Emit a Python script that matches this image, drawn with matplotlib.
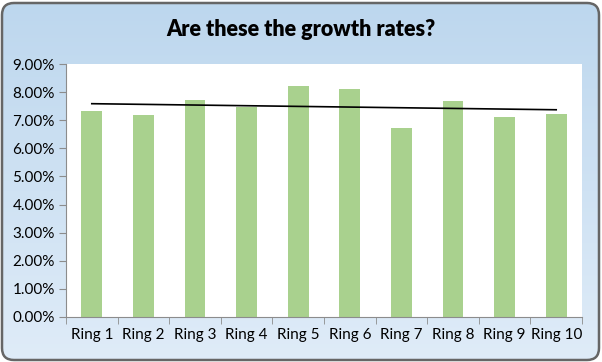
import matplotlib.pyplot as plt
import numpy as np
from matplotlib.patches import FancyBboxPatch
from matplotlib.ticker import FuncFormatter, FixedLocator

######## Data ########
rings = ['Ring 1', 'Ring 2', 'Ring 3', 'Ring 4', 'Ring 5',
         'Ring 6', 'Ring 7', 'Ring 8', 'Ring 9', 'Ring 10']
growth = [7.33, 7.19, 7.72, 7.47, 8.22, 8.11, 6.73, 7.69, 7.12, 7.22]
title = 'Are these the growth rates?'
######################

plt.rcParams['font.family'] = ['Lato', 'DejaVu Sans']

fig = plt.figure(figsize=(6.02, 3.62), dpi=100)
fig.patch.set_facecolor('white')

# rounded frame with vertical gradient
bg = fig.add_axes([0, 0, 1, 1], zorder=-1)
bg.set_xlim(0, 602)
bg.set_ylim(0, 362)
bg.axis('off')
frame = FancyBboxPatch((2, 2), 597, 357, boxstyle='round,pad=0,rounding_size=12',
                       facecolor='none', edgecolor='#666666', linewidth=1.8, zorder=3)
bg.add_patch(frame)
grad = np.linspace(0, 1, 256).reshape(-1, 1)
top = np.array([0.741, 0.843, 0.933])
bot = np.array([0.875, 0.925, 0.973])
img = top + (bot - top) * grad[:, :, None] * np.ones((1, 1, 3))
im = bg.imshow(img, extent=(2, 599, 2, 359), origin='upper', aspect='auto')
im.set_clip_path(frame)

ax = fig.add_axes([66 / 602, 45 / 362, 516 / 602, 253 / 362])
ax.set_facecolor('white')
x = np.arange(len(rings))
ax.bar(x, growth, width=0.4, color='#a9d18e')

# linear trendline like excel
k, b = np.polyfit(x, growth, 1)
ax.plot([x[0], x[-1]], [k * x[0] + b, k * x[-1] + b], color='black', lw=1.2)

ax.set_xlim(-0.5, len(rings) - 0.5)
ax.set_ylim(0, 9)
ax.set_yticks(np.arange(0, 10, 1))
ax.yaxis.set_major_formatter(FuncFormatter(lambda v, p: '%.2f%%' % v))
ax.set_xticks(x)
ax.set_xticklabels(rings)
ax.xaxis.set_minor_locator(FixedLocator(np.arange(-0.5, len(rings), 1)))
ax.tick_params(axis='x', which='major', length=0, pad=8, labelsize=11)
ax.tick_params(axis='x', which='minor', length=5, color='#8c8c8c')
ax.tick_params(axis='y', length=5, color='#8c8c8c', labelsize=11, pad=3)

for s in ['top', 'right']:
    ax.spines[s].set_visible(False)
for s in ['left', 'bottom']:
    ax.spines[s].set_color('#8c8c8c')

fig.text(0.5, 1 - 30 / 362, title, ha='center', va='center',
         fontsize=15.5, fontweight='heavy')

plt.savefig('out.png', dpi=100)
